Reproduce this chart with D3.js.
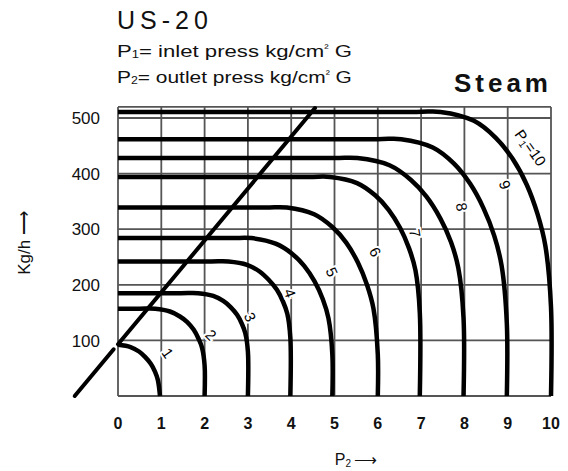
<!DOCTYPE html>
<html><head><meta charset="utf-8">
<script src="https://cdn.jsdelivr.net/npm/d3@7"></script>
<style>body{margin:0;background:#fff}svg{display:block}</style>
</head><body><svg id="c" width="568" height="471"></svg>
<script>
// ---- data ----
const xTicks = [0,1,2,3,4,5,6,7,8,9,10];
const yTicks = [100,200,300,400,500];
const p1Values = [1,2,3,4,5,6,7,8,9,10];
const curveP1_1  = [[0,92],[0.29,88],[0.485,80],[0.63,70],[0.757,58],[0.854,44],[0.92,29],[0.97,0]];
const curveP1_2  = [[0,157],[0.5,157],[0.86,157],[1.2,152],[1.43,143],[1.6,133],[1.75,119],[1.86,103],[1.94,87],[2.0,55],[2.0,0]];
const curveP1_3  = [[0,185],[1.45,185],[1.85,185],[2.2,180],[2.43,171],[2.6,160],[2.75,146],[2.86,130],[2.94,113],[3.0,80],[3.0,0]];
const curveP1_4  = [[0,242],[2.15,242],[2.55,242],[2.98,236],[3.27,224],[3.48,209],[3.67,191],[3.81,170],[3.91,148],[3.98,105],[3.98,0]];
const curveP1_5  = [[0,284],[2.6,284],[3.08,284],[3.64,274],[4.02,256],[4.3,234],[4.54,206],[4.73,174],[4.86,140],[4.95,75],[4.95,0]];
const curveP1_6  = [[0,339],[3.4,339],[3.9,339],[4.53,327],[4.95,304],[5.27,276],[5.54,240],[5.75,200],[5.9,157],[6.0,75],[6.0,0]];
const curveP1_7  = [[0,394],[4.4,394],[4.9,394],[5.52,383],[5.94,361],[6.25,335],[6.51,303],[6.72,266],[6.87,226],[6.97,150],[6.97,0]];
const curveP1_8  = [[0,428],[5.0,428],[5.53,428],[6.27,415],[6.76,389],[7.12,359],[7.44,320],[7.69,277],[7.86,230],[7.98,140],[7.98,0]];
const curveP1_9  = [[0,462],[6.0,462],[6.54,462],[7.27,447],[7.76,418],[8.13,382],[8.44,338],[8.69,288],[8.86,234],[8.98,130],[8.98,0]];
const curveP1_10 = [[0,511],[6.9,511],[7.45,511],[8.22,495],[8.73,464],[9.11,427],[9.44,380],[9.69,327],[9.87,270],[10,160],[10,0]];
const curves = [curveP1_1,curveP1_2,curveP1_3,curveP1_4,curveP1_5,curveP1_6,curveP1_7,curveP1_8,curveP1_9,curveP1_10];
const curveLabels = ["1","2","3","4","5","6","7","8","9","10"];
const labelAnchors = [[1.15,77],[2.15,110],[3.05,142],[3.97,185],[4.94,223],[5.94,259],[6.86,293],[7.94,340],[8.94,380],[9.52,446]];
const diagonalLower = [[-1,0],[-0.1,84]];
const diagonalUpper = [[0,93],[4.55,518]];

// ---- drawing ----
const svg = d3.select("#c");
const FONT = "'Liberation Sans', Arial, sans-serif";
const x = d3.scaleLinear().domain([0,10]).range([118,551]);
const y = d3.scaleLinear().domain([0,520]).range([396,106.9]);
const GRID = "#555";

const g = svg.append("g");
g.selectAll("line.vx").data(xTicks).join("line")
  .attr("x1",d=>x(d)).attr("x2",d=>x(d)).attr("y1",y(0)).attr("y2",y(520))
  .attr("stroke",GRID).attr("stroke-width",1.8);
g.selectAll("line.hy").data([0,...yTicks,520]).join("line")
  .attr("x1",x(0)).attr("x2",x(10)).attr("y1",d=>y(d)).attr("y2",d=>y(d))
  .attr("stroke",GRID).attr("stroke-width",1.8);

svg.selectAll("text.yt").data(yTicks).join("text")
  .attr("x",100).attr("y",d=>y(d)).attr("dy","0.36em")
  .attr("text-anchor","end").attr("font-family",FONT).attr("font-size",17)
  .attr("fill","#111").text(d=>d);
svg.selectAll("text.xt").data(xTicks).join("text")
  .attr("x",d=>x(d)).attr("y",429)
  .attr("text-anchor","middle").attr("font-family",FONT).attr("font-size",16)
  .attr("font-weight","bold").attr("fill","#111").text(d=>d);

const line = d3.line().x(d=>x(d[0])).y(d=>y(d[1])).curve(d3.curveCatmullRom.alpha(0.5));
svg.append("g").selectAll("path").data(curves).join("path")
  .attr("d",line).attr("fill","none").attr("stroke","#000").attr("stroke-width",4.5);

const straight = d3.line().x(d=>x(d[0])).y(d=>y(d[1]));
svg.append("g").selectAll("path").data([diagonalLower,diagonalUpper]).join("path")
  .attr("d",straight).attr("fill","none").attr("stroke","#000").attr("stroke-width",4)
  .attr("stroke-linecap","round");

const rot = [55,45,65,70,65,60,80,80,70,55];
const lg = svg.append("g");
curveLabels.forEach((t,i)=>{
  const [px,py] = labelAnchors[i];
  const te = lg.append("text")
    .attr("transform",`translate(${x(px)},${y(py)}) rotate(${rot[i]})`)
    .attr("text-anchor","middle").attr("dy","0.36em")
    .attr("font-family",FONT).attr("font-size",15)
    .attr("fill","#000").attr("stroke","#fff").attr("stroke-width",4)
    .attr("paint-order","stroke");
  if(i===9){
    te.append("tspan").text("P");
    te.append("tspan").attr("font-size",10).attr("dy","0.2em").text("1");
    te.append("tspan").attr("dy","-0.2em").text("=10");
  } else te.text(t);
});

svg.append("text").attr("x",117).attr("y",29).attr("font-family",FONT)
  .attr("font-size",25).attr("letter-spacing",5).attr("fill","#111").text("US-20");

function subLine(yy, sub, rest){
  const t = svg.append("text").attr("x",117).attr("y",yy).attr("font-family",FONT)
    .attr("font-size",17).attr("fill","#111");
  t.append("tspan").text("P");
  t.append("tspan").attr("font-size",10).attr("dy",1).text(sub);
  t.append("tspan").attr("dy",-1).text("= "+rest+" press kg/cm");
  t.append("tspan").attr("font-size",10).attr("dy",-6).text("²");
  t.append("tspan").attr("dy",6).text(" G");
  const w = t.node().getBBox().width;
  t.attr("transform",`translate(117,0) scale(${235/w},1) translate(-117,0)`);
}
subLine(57,"1","inlet");
subLine(83,"2","outlet");

svg.append("text").attr("x",552).attr("y",92).attr("text-anchor","end").attr("font-family",FONT)
  .attr("font-size",26).attr("font-weight","bold").attr("letter-spacing",4).attr("fill","#111").text("Steam");

const xt = svg.append("text").attr("x",356).attr("y",465).attr("text-anchor","middle")
  .attr("font-family",FONT).attr("font-size",16).attr("fill","#111");
xt.append("tspan").text("P");
xt.append("tspan").attr("font-size",10).attr("dy",2).text("2");
xt.append("tspan").attr("dy",-2).text("\u2009\u27F6");

svg.append("text").attr("transform","translate(30,243) rotate(-90)").attr("text-anchor","middle")
  .attr("font-family",FONT).attr("font-size",17).attr("fill","#111").text("Kg/h  \u27F6");
</script></body></html>
